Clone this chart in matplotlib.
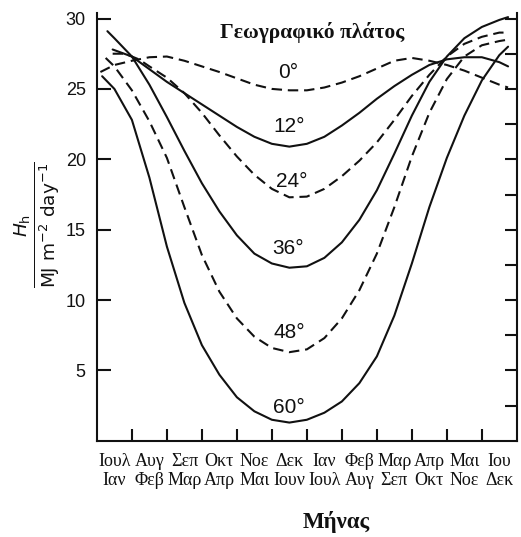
import matplotlib
matplotlib.use('Agg')
import matplotlib.pyplot as plt

# month positions (0 = start of first month, 12 = end of last)
months_top = ['Ιουλ', 'Αυγ', 'Σεπ', 'Οκτ', 'Νοε', 'Δεκ', 'Ιαν', 'Φεβ', 'Μαρ', 'Απρ', 'Μαι', 'Ιου']
months_bot = ['Ιαν', 'Φεβ', 'Μαρ', 'Απρ', 'Μαι', 'Ιουν', 'Ιουλ', 'Αυγ', 'Σεπ', 'Οκτ', 'Νοε', 'Δεκ']

# curves, MJ m^-2 day^-1
x_0 = [0.1, 0.5, 1.0, 1.5, 2.0, 2.5, 3.0, 3.5, 4.0, 4.5, 5.0, 5.5, 6.0, 6.5, 7.0, 7.5, 8.0, 8.5, 9.0, 9.5, 10.0, 10.5, 11.0, 11.5, 11.75]
h_0 = [26.2, 26.7, 27.0, 27.25, 27.3, 27.0, 26.6, 26.2, 25.75, 25.3, 25.0, 24.9, 24.9, 25.1, 25.45, 25.9, 26.45, 27.0, 27.2, 27.0, 26.7, 26.3, 25.8, 25.3, 25.1]

x_12 = [0.45, 1.0, 1.5, 2.0, 2.5, 3.0, 3.5, 4.0, 4.5, 5.0, 5.5, 6.0, 6.5, 7.0, 7.5, 8.0, 8.5, 9.0, 9.5, 10.0, 10.5, 11.0, 11.5, 11.75]
h_12 = [27.8, 27.3, 26.4, 25.5, 24.7, 23.9, 23.1, 22.3, 21.6, 21.1, 20.9, 21.1, 21.6, 22.4, 23.3, 24.3, 25.2, 26.0, 26.7, 27.1, 27.25, 27.25, 26.9, 26.6]

x_24 = [0.45, 0.8, 1.2, 1.5, 2.0, 2.5, 3.0, 3.5, 4.0, 4.5, 5.0, 5.5, 6.0, 6.5, 7.0, 7.5, 8.0, 8.5, 9.0, 9.5, 10.0, 10.5, 11.0, 11.5, 11.75]
h_24 = [27.5, 27.5, 27.1, 26.6, 25.8, 24.7, 23.3, 21.7, 20.2, 18.9, 17.9, 17.3, 17.35, 17.9, 18.8, 19.9, 21.2, 22.8, 24.5, 26.0, 27.3, 28.2, 28.7, 29.0, 29.0]

x_36 = [0.3, 0.5, 1.0, 1.5, 2.0, 2.5, 3.0, 3.5, 4.0, 4.5, 5.0, 5.5, 6.0, 6.5, 7.0, 7.5, 8.0, 8.5, 9.0, 9.5, 10.0, 10.5, 11.0, 11.5, 11.75]
h_36 = [29.1, 28.6, 27.3, 25.3, 23.0, 20.6, 18.3, 16.3, 14.6, 13.3, 12.6, 12.3, 12.4, 13.0, 14.1, 15.7, 17.8, 20.4, 23.1, 25.5, 27.3, 28.6, 29.4, 29.9, 30.1]

x_48 = [0.25, 0.5, 1.0, 1.5, 2.0, 2.5, 3.0, 3.5, 4.0, 4.5, 5.0, 5.5, 6.0, 6.5, 7.0, 7.5, 8.0, 8.5, 9.0, 9.5, 10.0, 10.5, 11.0, 11.5, 11.75]
h_48 = [27.2, 26.6, 24.9, 22.7, 20.1, 16.6, 13.2, 10.6, 8.7, 7.4, 6.6, 6.3, 6.5, 7.3, 8.7, 10.7, 13.3, 16.6, 20.2, 23.3, 25.7, 27.3, 28.1, 28.4, 28.5]

x_60 = [0.15, 0.5, 1.0, 1.5, 2.0, 2.5, 3.0, 3.5, 4.0, 4.5, 5.0, 5.5, 6.0, 6.5, 7.0, 7.5, 8.0, 8.5, 9.0, 9.5, 10.0, 10.5, 11.0, 11.5, 11.75]
h_60 = [25.9, 25.0, 22.8, 18.7, 13.8, 9.8, 6.8, 4.7, 3.1, 2.1, 1.5, 1.3, 1.5, 2.0, 2.8, 4.1, 6.0, 8.9, 12.6, 16.6, 20.1, 23.1, 25.6, 27.4, 28.0]

lat_labels = ['0°', '12°', '24°', '36°', '48°', '60°']
lab_x = [5.46, 5.5, 5.57, 5.46, 5.5, 5.5]
lab_y = [26.2, 22.3, 18.4, 13.7, 7.7, 2.35]

ink = '#111111'
dash = (0, (5, 2.8))

fig = plt.figure(figsize=(5.21, 5.37), dpi=100)
ax = fig.add_axes([0.186, 0.179, 0.806, 0.797])

curves = [(x_0, h_0, dash), (x_12, h_12, '-'), (x_24, h_24, dash),
          (x_36, h_36, '-'), (x_48, h_48, dash), (x_60, h_60, '-')]
for xs, hs, ls in curves:
    ax.plot(xs, hs, color=ink, lw=1.5, linestyle=ls, solid_capstyle='round',
            solid_joinstyle='round')

for t, lx, ly in zip(lat_labels, lab_x, lab_y):
    ax.text(lx, ly, t, ha='center', va='center', fontsize=15,
            family='Liberation Sans', color=ink)

ax.text(6.14, 29.0, 'Γεωγραφικό πλάτος', ha='center', va='center',
        fontsize=15.5, family='Liberation Serif', fontweight='bold', color=ink)

ax.set_xlim(0, 12)
ax.set_ylim(0, 30.4)
ax.spines['top'].set_visible(False)
for s in ['left', 'right', 'bottom']:
    ax.spines[s].set_linewidth(1.5)
    ax.spines[s].set_color(ink)

# y axis: labelled ticks every 5 on the left, plain ticks every 2.5 on the right
ax.set_yticks([5, 10, 15, 20, 25, 30])
ax.tick_params(axis='y', direction='in', length=10, width=1.5, color=ink,
               labelsize=13, pad=8, labelcolor=ink)
for lbl in ax.get_yticklabels():
    lbl.set_family('Liberation Sans')
ax2 = ax.twinx()
ax2.set_ylim(ax.get_ylim())
ax2.set_yticks([2.5 * i for i in range(1, 13)])
ax2.set_yticklabels([])
ax2.tick_params(axis='y', direction='in', length=9, width=1.5, color=ink)
for s in ax2.spines.values():
    s.set_visible(False)

# x axis: month boundaries as ticks, two rows of month names in between
ax.set_xticks(range(1, 12))
ax.set_xticks([i + 0.5 for i in range(12)], minor=True)
ax.set_xticklabels([], minor=False)
ax.set_xticklabels([a + '\n' + b for a, b in zip(months_top, months_bot)], minor=True)
ax.tick_params(axis='x', which='major', direction='in', length=9, width=1.5, color=ink)
ax.tick_params(axis='x', which='minor', length=0, pad=9, labelsize=13, labelcolor=ink)
for lbl in ax.get_xticklabels(minor=True):
    lbl.set_family('Liberation Serif')
    lbl.set_linespacing(1.1)

ax.set_ylabel(r'$\frac{H_\mathrm{h}}{\mathrm{MJ\ m^{-2}\ day^{-1}}}$', fontsize=19,
              color=ink)
ax.yaxis.set_label_coords(-0.083, 0.505)
fig.text(336 / 521, 1 - 522 / 537, 'Μήνας', ha='center', va='center', fontsize=16.5,
         family='Liberation Serif', fontweight='bold', color=ink)

fig.savefig('out.png', dpi=100)
